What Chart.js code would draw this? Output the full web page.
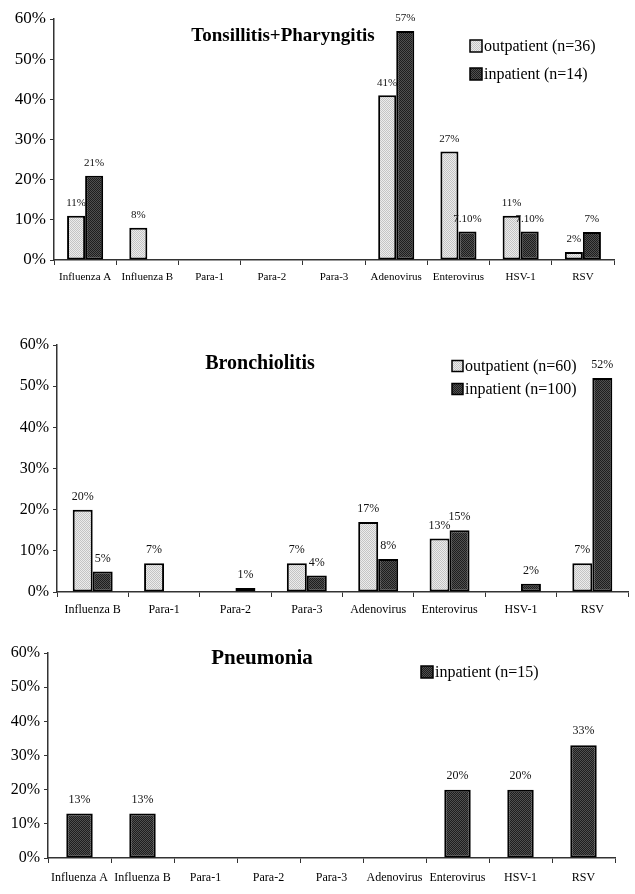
<!DOCTYPE html>
<html>
<head>
<meta charset="utf-8">
<script src="https://cdn.jsdelivr.net/npm/chart.js@4/dist/chart.umd.min.js"></script>
<style>
  html, body { margin: 0; padding: 0; background: #fff; }
  body { width: 635px; height: 894px; position: relative; overflow: hidden; }
  canvas { position: absolute; left: 0; }
</style>
</head>
<body>
<canvas id="chart-tonsil" width="635" height="295" style="top:0px;width:635px;height:295px"></canvas>
<canvas id="chart-bronch" width="635" height="318" style="top:300px;width:635px;height:318px"></canvas>
<canvas id="chart-pneum" width="635" height="279" style="top:615px;width:635px;height:279px"></canvas>
<script>
// Data
const tonsilCategories = ['Influenza A', 'Influenza B', 'Para-1', 'Para-2', 'Para-3', 'Adenovirus', 'Enterovirus', 'HSV-1', 'RSV'];
const tonsilOutpatient = [11, 8, 0, 0, 0, 41, 27, 11, 2];
const tonsilInpatient = [21, 0, 0, 0, 0, 57, 7.1, 7.1, 7];

const bronchCategories = ['Influenza B', 'Para-1', 'Para-2', 'Para-3', 'Adenovirus', 'Enterovirus', 'HSV-1', 'RSV'];
const bronchOutpatient = [20, 7, 0, 7, 17, 13, 0, 7];
const bronchInpatient = [5, 0, 1, 4, 8, 15, 2, 52];

const pneumCategories = ['Influenza A', 'Influenza B', 'Para-1', 'Para-2', 'Para-3', 'Adenovirus', 'Enterovirus', 'HSV-1', 'RSV'];
const pneumInpatient = [13, 13, 0, 0, 0, 0, 20, 20, 33];

const yTicks = [0, 10, 20, 30, 40, 50, 60];

const serif = '"Liberation Serif", "Times New Roman", serif';

// halftone-ish fills like the scanned original
function makePattern(base, dot) {
    const c = document.createElement('canvas');
    c.width = 2; c.height = 2;
    const g = c.getContext('2d');
    g.fillStyle = base;
    g.fillRect(0, 0, 2, 2);
    g.fillStyle = dot;
    g.fillRect(0, 0, 1, 1);
    g.fillRect(1, 1, 1, 1);
    return g.createPattern(c, 'repeat');
}
const lightFill = makePattern('#ececec', '#c4c4c4');
const darkFill = makePattern('#505050', '#1e1e1e');

const fmtPct = (v) => Number.isInteger(v) ? v + '%' : v.toFixed(2) + '%';

// value labels above bars
const valueLabels = {
    id: 'valueLabels',
    afterDatasetsDraw(chart, args, opts) {
        const ctx = chart.ctx;
        ctx.save();
        ctx.font = opts.size + 'px ' + serif;
        ctx.fillStyle = '#111';
        ctx.textAlign = 'center';
        ctx.textBaseline = 'bottom';
        chart.data.datasets.forEach((ds, i) => {
            chart.getDatasetMeta(i).data.forEach((bar, j) => {
                const v = ds.data[j];
                if (!v) return;
                ctx.fillText(fmtPct(v), bar.x, bar.y - opts.gap);
            });
        });
        ctx.restore();
    }
};

// title + legend drawn where the original has them
const overlay = {
    id: 'overlay',
    afterDraw(chart, args, opts) {
        const ctx = chart.ctx;
        ctx.save();
        ctx.fillStyle = '#000';
        ctx.textBaseline = 'middle';
        ctx.textAlign = 'center';
        ctx.font = 'bold ' + opts.titleSize + 'px ' + serif;
        ctx.fillText(opts.title, opts.titleX, opts.titleY);

        ctx.textAlign = 'left';
        ctx.font = opts.legendSize + 'px ' + serif;
        chart.data.datasets.forEach((ds, i) => {
            const y = opts.legendY + i * opts.legendGap;
            const b = opts.box;
            ctx.fillStyle = ds.backgroundColor;
            ctx.fillRect(opts.legendX, y - b / 2, b, b);
            ctx.strokeStyle = '#000';
            ctx.lineWidth = 1.5;
            ctx.strokeRect(opts.legendX, y - b / 2, b, b);
            ctx.fillStyle = '#000';
            ctx.fillText(ds.label, opts.legendX + b + 2, y + 1);
        });
        ctx.restore();
    }
};

function barChart(id, labels, datasets, cfg) {
    return new Chart(document.getElementById(id), {
        type: 'bar',
        data: { labels: labels, datasets: datasets },
        plugins: [valueLabels, overlay],
        options: {
            responsive: false,
            animation: false,
            layout: { padding: { top: cfg.top, right: cfg.right, bottom: 0, left: 0 } },
            datasets: {
                bar: {
                    categoryPercentage: cfg.catPct,
                    barPercentage: 1,
                    borderColor: '#000',
                    borderWidth: 2,
                    borderSkipped: false
                }
            },
            plugins: {
                legend: { display: false },
                title: { display: false },
                tooltip: { enabled: false },
                valueLabels: { size: cfg.valueSize, gap: cfg.valueGap },
                overlay: cfg.overlay
            },
            scales: {
                x: {
                    afterFit: (s) => { s.height = cfg.xHeight; },
                    grid: { drawOnChartArea: false, drawTicks: true, tickLength: 5, color: '#333', offset: true },
                    border: { color: '#333', width: 1.5 },
                    ticks: { color: '#000', font: { family: serif, size: cfg.xSize }, padding: cfg.xPad, maxRotation: 0, autoSkip: false }
                },
                y: {
                    min: 0,
                    max: 60,
                    afterFit: (s) => { s.width = cfg.left; },
                    afterBuildTicks: (s) => { s.ticks = yTicks.map(v => ({ value: v })); },
                    grid: { drawOnChartArea: false, drawTicks: true, tickLength: 4, color: '#333' },
                    border: { color: '#333', width: 1.5 },
                    ticks: { color: '#000', font: { family: serif, size: cfg.ySize }, padding: 4, callback: (v) => v + '%' }
                }
            }
        }
    });
}

barChart('chart-tonsil', tonsilCategories, [
    { label: 'outpatient (n=36)', data: tonsilOutpatient, backgroundColor: lightFill },
    { label: 'inpatient (n=14)', data: tonsilInpatient, backgroundColor: darkFill }
], {
    top: 19, right: 21, left: 54, xHeight: 35, catPct: 0.58,
    xSize: 11, ySize: 17, xPad: 6, valueSize: 11, valueGap: 7,
    overlay: {
        title: 'Tonsillitis+Pharyngitis', titleSize: 19, titleX: 283, titleY: 36,
        legendX: 470, legendY: 46, legendGap: 28, legendSize: 16, box: 12
    }
});

barChart('chart-bronch', bronchCategories, [
    { label: 'outpatient (n=60)', data: bronchOutpatient, backgroundColor: lightFill },
    { label: 'inpatient (n=100)', data: bronchInpatient, backgroundColor: darkFill }
], {
    top: 45, right: 7, left: 57, xHeight: 26, catPct: 0.56,
    xSize: 12, ySize: 16, xPad: 6, valueSize: 12, valueGap: 7,
    overlay: {
        title: 'Bronchiolitis', titleSize: 20, titleX: 260, titleY: 64,
        legendX: 452, legendY: 66, legendGap: 23, legendSize: 16, box: 11
    }
});

barChart('chart-pneum', pneumCategories, [
    { label: 'inpatient (n=15)', data: pneumInpatient, backgroundColor: darkFill }
], {
    top: 38, right: 20, left: 48, xHeight: 36, catPct: 0.42,
    xSize: 12, ySize: 16, xPad: 8, valueSize: 12, valueGap: 8,
    overlay: {
        title: 'Pneumonia', titleSize: 21, titleX: 262, titleY: 44,
        legendX: 421, legendY: 57, legendGap: 0, legendSize: 16, box: 12
    }
});
</script>
</body>
</html>
